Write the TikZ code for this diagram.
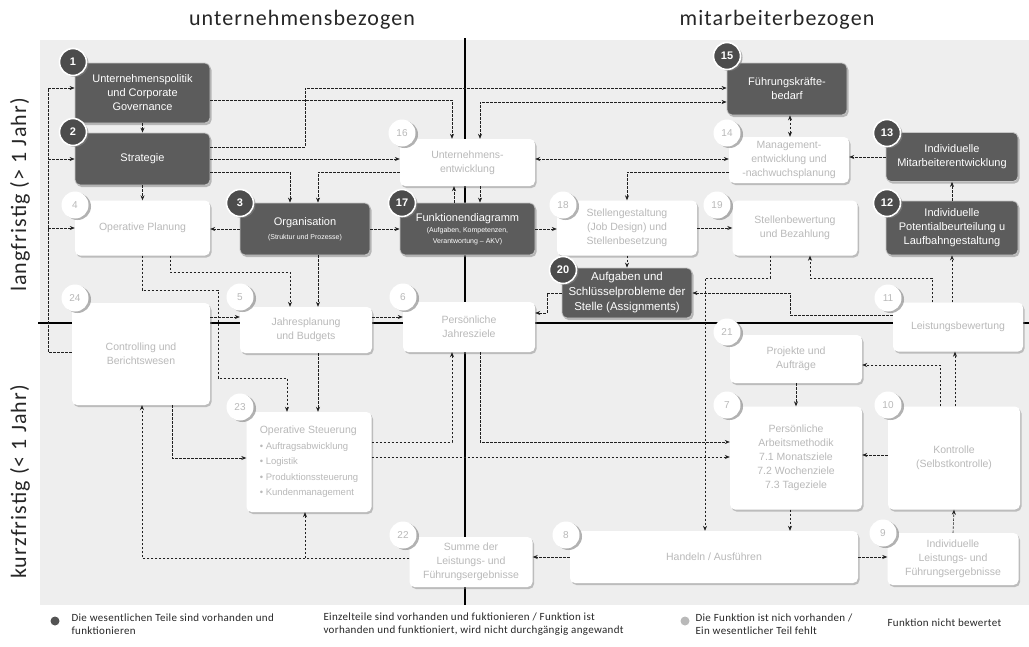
\documentclass[tikz,border=0pt]{standalone}
\usepackage{fontspec}
\setmainfont{Liberation Sans}
\newfontfamily\headfont{Carlito}[LetterSpace=5]
\newfontfamily\legfont{Carlito}[LetterSpace=3]
\usetikzlibrary{arrows.meta,shadows}

\tikzset{
  darkbox/.style={rectangle, rounded corners=5pt, draw=gray!45, line width=0.8pt,
    fill=gray!72!black, text=white, align=center, inner sep=2pt,
    font=\fontsize{11}{14}\selectfont,
    drop shadow={shadow xshift=1.5pt, shadow yshift=-2pt, opacity=0.5}},
  whitebox/.style={rectangle, rounded corners=5pt, fill=white, text=gray!55,
    align=center, inner sep=2pt, font=\fontsize{10.5}{14}\selectfont,
    drop shadow={shadow xshift=1.5pt, shadow yshift=-2pt, opacity=0.45}},
  numdark/.style={circle, minimum size=27pt, inner sep=0pt, fill=gray!60!black,
    draw=white, line width=1.6pt, text=white, font=\fontsize{11}{11}\selectfont\bfseries,
    drop shadow={shadow xshift=2pt, shadow yshift=-1.5pt, opacity=0.6}},
  numwhite/.style={circle, minimum size=27pt, inner sep=0pt, fill=white, text=gray!55,
    font=\fontsize{10}{10}\selectfont,
    drop shadow={shadow xshift=2.5pt, shadow yshift=-1.5pt, opacity=0.6}},
  dl/.style={draw=gray!25!black, line width=0.6pt, dash pattern=on 2.5pt off 1.5pt,
    -{Stealth[length=5pt,width=4pt]}},
  dlboth/.style={dl, {Stealth[length=5pt,width=4pt]}-{Stealth[length=5pt,width=4pt]}},
  axisline/.style={line width=1.1pt},
  headtext/.style={font=\headfont\fontsize{22}{22}\selectfont, text=black!85},
  legtext/.style={font=\legfont\fontsize{11}{13}\selectfont, align=left, anchor=west, text=black!85},
}

\begin{document}
\begin{tikzpicture}[x=1pt, y=-1pt]
\useasboundingbox (0,0) rectangle (1029,646);
\fill[gray!13] (40,40) rectangle (1029,605); % panel
\draw[axisline] (465,38) -- (465,605);
\draw[axisline] (38,323) -- (1029,323); % axes

\node[headtext] (hu) at (302,20) {unternehmensbezogen};
\node[headtext] (hm) at (777,20) {mitarbeiterbezogen};
\node[headtext, rotate=90] (lf) at (20,195) {langfristig (> 1 Jahr)};
\node[headtext, rotate=90] (kf) at (20,482) {kurzfristig (< 1 Jahr)};

% long term, company side
\node[darkbox, minimum width=135pt, minimum height=60pt] (b1) at (142.5,93) {Unternehmenspolitik\\und Corporate\\Governance};
\node[darkbox, minimum width=135pt, minimum height=52pt] (b2) at (142.5,159) {Strategie};
\node[whitebox, minimum width=135pt, minimum height=55pt] (b4) at (142.5,228) {Operative Planung};
\node[darkbox, minimum width=130pt, minimum height=52pt] (b3) at (305,229) {Organisation\\{\fontsize{7}{8}\selectfont (Struktur und Prozesse)}};
\node[darkbox, minimum width=135pt, minimum height=52pt, font=\fontsize{11}{11}\selectfont] (b17) at (467.5,229) {Funktionendiagramm\\{\fontsize{7}{9}\selectfont (Aufgaben, Kompetenzen,}\\{\fontsize{7}{9}\selectfont Verantwortung -- AKV)}};
\node[whitebox, minimum width=135pt, minimum height=47pt] (b16) at (467.5,162.5) {Unternehmens-\\entwicklung};

% long term, staff side
\node[darkbox, minimum width=120pt, minimum height=52pt] (b15) at (787,89) {Führungskräfte-\\bedarf};
\node[whitebox, minimum width=120pt, minimum height=46pt] (b14) at (789,160) {Management-\\entwicklung und\\-nachwuchsplanung};
\node[darkbox, minimum width=132pt, minimum height=49pt] (b13) at (952,157) {Individuelle\\Mitarbeiterentwicklung};
\node[darkbox, minimum width=132pt, minimum height=54pt] (b12) at (952,228) {Individuelle\\Potentialbeurteilung u\\Laufbahngestaltung};
\node[whitebox, minimum width=140pt, minimum height=55pt] (b18) at (627,228) {Stellengestaltung\\(Job Design) und\\Stellenbesetzung};
\node[whitebox, minimum width=125pt, minimum height=55pt] (b19) at (795,228) {Stellenbewertung\\und Bezahlung};
\node[darkbox, minimum width=130pt, minimum height=50pt, font=\fontsize{11.5}{15}\selectfont] (b20) at (627,293) {Aufgaben und\\Schlüsselprobleme der\\Stelle (Assignments)};

% short term
\node[whitebox, minimum width=138pt, minimum height=102pt] (b24) at (141,354) {Controlling und\\Berichtswesen};
\node[whitebox, minimum width=132pt, minimum height=46pt] (b5) at (306,330) {Jahresplanung\\und Budgets};
\node[whitebox, minimum width=132pt, minimum height=50pt] (b6) at (469,327) {Persönliche\\Jahresziele};
\node[whitebox, minimum width=125pt, minimum height=100pt, align=left, font=\fontsize{9.5}{15.5}\selectfont] (b23) at (309,462) {{\fontsize{10.5}{14}\selectfont Operative Steuerung}\\ • Auftragsabwicklung\\ • Logistik\\ • Produktionssteuerung\\ • Kundenmanagement};
\node[whitebox, minimum width=123pt, minimum height=50pt] (b22) at (471,562) {Summe der\\Leistungs- und\\Führungsergebnisse};
\node[whitebox, minimum width=130pt, minimum height=49pt] (b11) at (958,327) {Leistungsbewertung};
\node[whitebox, minimum width=132pt, minimum height=48pt] (b21) at (796,359) {Projekte und\\Aufträge};
\node[whitebox, minimum width=132pt, minimum height=103pt] (b7) at (796,458) {Persönliche\\Arbeitsmethodik\\7.1 Monatsziele\\7.2 Wochenziele\\7.3 Tageziele};
\node[whitebox, minimum width=132pt, minimum height=103pt] (b10) at (954,458) {Kontrolle\\(Selbstkontrolle)};
\node[whitebox, minimum width=288pt, minimum height=52pt] (bH) at (714,557) {Handeln / Ausführen};
\node[whitebox, minimum width=131pt, minimum height=52pt] (b9) at (953,559) {Individuelle\\Leistungs- und\\Führungsergebnisse};

% connectors, upper half
\coordinate (ls) at (48,88);
\draw[dl] (b24.west |- 0,352) -| (ls) -- (b1.west |- ls);
\draw[dl] (ls |- b2.west) -- (b2.west);
\draw[dl] (ls |- b4.west) -- (b4.west);
\draw[dl] (b1) -- (b2);
\draw[dl] (b2) -- (b4);
\draw[dl] (b1.east |- 0,100) -| (b16.north -| 452,0);
\draw[dl] (b2.east |- 0,147) -| (305,88) -- (b15.west |- 0,88);
\draw[dlboth] (b16.north -| 480,0) |- (b15.west |- 0,102);
\draw[dl] (b2.east |- 0,159) -- (b16.west |- 0,159);
\draw[dl] (b2.east |- 0,172) -| (b3.north -| 290,0);
\draw[dl] (b16.west |- 0,172) -| (b3.north -| 318,0);
\draw[dl] (b3.west) -- (b4.east |- b3.west);
\draw[dl] (b3.east) -- (b17.west |- b3.east);
\draw[dl] (b17.north -| 454,0) -- (b16.south -| 454,0);
\draw[dl] (b16.south -| 480,0) -- (b17.north -| 480,0);
\draw[dlboth] (b16.east |- 0,159) -- (b14.west |- 0,159);
\draw[dl] (b14.west |- 0,172) -| (b18.north);
\draw[dl] (b17.east) -- (b18.west |- b17.east);
\draw[dl] (b18.east) -- (b19.west |- b18.east);
\draw[dl] (b18.south) -- (b20.north);
\draw[dlboth] (b15.south -| 790,0) -- (b14.north -| 790,0);
\draw[dl] (b13.west) -- (b14.east |- b13.west);
\draw[dl] (b12.north) -- (b13.south);
\draw[dl] (b19.south -| 770,0) |- (705,278) -- (bH.north -| 705,0);
\draw[dl] (b11.north -| 932,0) |- (810,278) -- (b19.south -| 810,0);
\draw[dl] (b11.north -| 952,0) -- (b12.south -| 952,0);
\draw[dl] (b11.west |- 0,315) -| (790,293) -- (b20.east |- 0,293);
\draw[dl] (b20.west |- 0,293) -| (547,313) -- (b6.east |- 0,313);

% connectors, lower half
\draw[dl] (b10.north -| 955,0) -- (b11.south -| 955,0);
\draw[dl] (b10.north -| 940,0) |- (b21.east |- 0,365);
\draw[dl] (b21.south) -- (b7.north);
\draw[dl] (b10.west |- 0,455) -- (b7.east |- 0,455);
\draw[dl] (b6.south -| 480,0) |- (b7.west |- 0,442);
\draw[dl] (b23.east |- 0,442) -| (b6.south -| 452,0);
\draw[dl] (b23.east |- 0,457) -- (b7.west |- 0,457);
\draw[dl] (b4.south -| 142,0) |- (218,290) |- (287,378) -- (b23.north -| 287,0);
\draw[dl] (b24.east |- 0,317) -- (b5.west |- 0,317);
\draw[dl] (b4.south -| 170,0) |- (290,272) -- (b5.north -| 290,0);
\draw[dl] (b3.south -| 318,0) -- (b5.north -| 318,0);
\draw[dl] (b5.east |- 0,317) -- (b6.west |- 0,317);
\draw[dl] (b5.south -| 318,0) -- (b23.north -| 318,0);
\coordinate (j22) at (305,558);
\draw[dl] (b22.west |- j22) -| (b24.south -| 142,0);
\draw[dl] (j22) -- (b23.south -| j22);
\draw[dl] (b24.south -| 172,0) |- (b23.west |- 0,458);
\draw[dl] (bH.west |- 0,557) -- (b22.east |- 0,557);
\draw[dl] (b7.south -| 790,0) -- (bH.north -| 790,0);
\draw[dl] (bH.east |- 0,557) -- (b9.west |- 0,557);
\draw[dl] (b9.north) -- (b10.south);

% number badges
\node[numdark] (n1) at (73,62) {1};
\node[numdark] (n2) at (73,132) {2};
\node[numwhite] (n4) at (75,205) {4};
\node[numdark] (n3) at (240,203) {3};
\node[numwhite] (n16) at (402,133) {16};
\node[numdark] (n17) at (402,203) {17};
\node[numdark] (n15) at (727,56) {15};
\node[numwhite] (n14) at (727,133) {14};
\node[numdark] (n13) at (887,133) {13};
\node[numdark] (n12) at (887,203) {12};
\node[numwhite] (n18) at (563,205) {18};
\node[numwhite] (n19) at (717,205) {19};
\node[numdark] (n20) at (563,270) {20};
\node[numwhite] (n24) at (75,298) {24};
\node[numwhite] (n5) at (240,297) {5};
\node[numwhite] (n6) at (403,297) {6};
\node[numwhite] (n23) at (240,407) {23};
\node[numwhite] (n22) at (403,535) {22};
\node[numwhite] (n8) at (566,535) {8};
\node[numwhite] (n11) at (888,298) {11};
\node[numwhite] (n21) at (727,332) {21};
\node[numwhite] (n7) at (727,405) {7};
\node[numwhite] (n10) at (888,405) {10};
\node[numwhite] (n9) at (883,533) {9};

% legend
\node[circle, fill=gray!65!black, minimum size=9pt, inner sep=0pt] (d1) at (55,621) {};
\node[legtext] (l1) at (68,624) {Die wesentlichen Teile sind vorhanden und\\funktionieren};
\node[legtext] (l2) at (320,624) {Einzelteile sind vorhanden und fuktionieren / Funktion ist\\vorhanden und funktioniert, wird nicht durchgängig angewandt};
\node[circle, fill=gray!55, minimum size=9pt, inner sep=0pt] (d3) at (685,621) {};
\node[legtext] (l3) at (692,624) {Die Funktion ist nich vorhanden /\\Ein wesentlicher Teil fehlt};
\node[legtext] (l4) at (884,623) {Funktion nicht bewertet};
\end{tikzpicture}
\end{document}
